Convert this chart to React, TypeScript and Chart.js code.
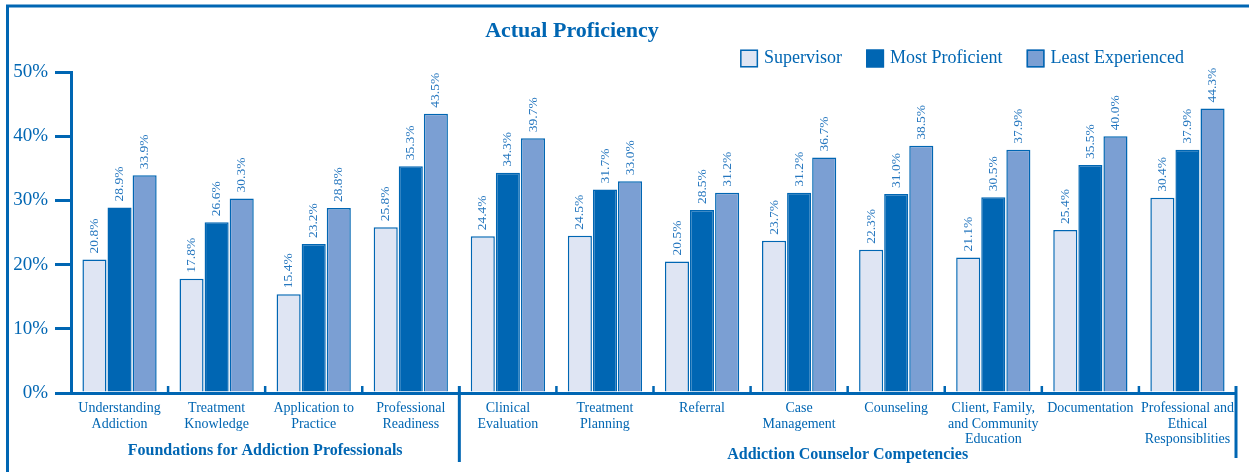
import React, { useEffect, useRef } from "react";
import { Chart, registerables } from "chart.js";

Chart.register(...registerables);

const categories: (string | string[])[] = [
  ["Understanding", "Addiction"],
  ["Treatment", "Knowledge"],
  ["Application to", "Practice"],
  ["Professional", "Readiness"],
  ["Clinical", "Evaluation"],
  ["Treatment", "Planning"],
  "Referral",
  ["Case", "Management"],
  "Counseling",
  ["Client, Family,", "and Community", "Education"],
  "Documentation",
  ["Professional and", "Ethical", "Responsiblities"],
];

const supervisor = [20.8, 17.8, 15.4, 25.8, 24.4, 24.5, 20.5, 23.7, 22.3, 21.1, 25.4, 30.4];
const mostProficient = [28.9, 26.6, 23.2, 35.3, 34.3, 31.7, 28.5, 31.2, 31.0, 30.5, 35.5, 37.9];
const leastExperienced = [33.9, 30.3, 28.8, 43.5, 39.7, 33.0, 31.2, 36.7, 38.5, 37.9, 40.0, 44.3];

const seriesNames = ["Supervisor", "Most Proficient", "Least Experienced"];
const groupNames = ["Foundations for Addiction Professionals", "Addiction Counselor Competencies"];
const groupSizes = [4, 8];
const titleText = "Actual Proficiency";

const BLUE = "#0066b3";
const LIGHT = "#dfe5f3";
const MEDIUM = "#7b9fd3";
const LABEL_BLUE = "#2677bf";
const FONT = "'Liberation Serif', 'DejaVu Serif', serif";
const fills = [LIGHT, BLUE, MEDIUM];

const decorPlugin = {
  id: "decor",
  afterDatasetsDraw(chart: any) {
    const ctx = chart.ctx;
    ctx.save();
    ctx.fillStyle = LABEL_BLUE;
    ctx.font = `13.5px ${FONT}`;
    ctx.textAlign = "left";
    ctx.textBaseline = "middle";
    chart.data.datasets.forEach((ds: any, di: number) => {
      const meta = chart.getDatasetMeta(di);
      meta.data.forEach((bar: any, i: number) => {
        const v = ds.data[i] as number;
        ctx.save();
        ctx.translate(bar.x, bar.y - 6);
        ctx.rotate(-Math.PI / 2);
        ctx.fillText(v.toFixed(1) + "%", 0, 0);
        ctx.restore();
      });
    });
    ctx.restore();
  },
  afterDraw(chart: any) {
    const ctx = chart.ctx;
    const xs = chart.scales.x;
    const area = chart.chartArea;
    ctx.save();

    // frame
    ctx.strokeStyle = BLUE;
    ctx.lineWidth = 3;
    ctx.beginPath();
    ctx.moveTo(7.5, chart.height + 10);
    ctx.lineTo(7.5, 6);
    ctx.lineTo(chart.width + 10, 6);
    ctx.stroke();

    // title
    ctx.fillStyle = BLUE;
    ctx.font = `bold 22px ${FONT}`;
    ctx.textAlign = "center";
    ctx.textBaseline = "middle";
    ctx.fillText(titleText, 572, 31);

    // legend
    ctx.font = `18px ${FONT}`;
    const box = 18;
    const gap = 6;
    const spacing = 24;
    const widths = seriesNames.map((n) => ctx.measureText(n).width);
    const total = widths.reduce((a, w) => a + box + gap + w, 0) + spacing * (seriesNames.length - 1);
    let lx = 1184 - total;
    const ly = 58.5;
    ctx.textAlign = "left";
    seriesNames.forEach((n, i) => {
      ctx.fillStyle = fills[i];
      ctx.fillRect(lx, ly - box / 2, box, box);
      ctx.strokeStyle = BLUE;
      ctx.lineWidth = 1.5;
      ctx.strokeRect(lx + 0.75, ly - box / 2 + 0.75, box - 1.5, box - 1.5);
      ctx.fillStyle = BLUE;
      ctx.fillText(n, lx + box + gap, ly);
      lx += box + gap + widths[i] + spacing;
    });

    // category boundary ticks
    const c0 = xs.getPixelForTick(0);
    const cw = xs.getPixelForTick(1) - c0;
    const n = categories.length;
    ctx.strokeStyle = BLUE;
    for (let k = 1; k <= n; k++) {
      const bx = c0 + (k - 0.5) * cw;
      const isGroupEnd = k === groupSizes[0];
      ctx.beginPath();
      if (isGroupEnd) {
        ctx.lineWidth = 3;
        ctx.moveTo(bx, area.bottom - 7);
        ctx.lineTo(bx, 462);
      } else if (k === n) {
        ctx.lineWidth = 3;
        ctx.moveTo(area.right, area.bottom - 7);
        ctx.lineTo(area.right, 458);
      } else {
        ctx.lineWidth = 2.5;
        ctx.moveTo(bx, area.bottom - 7);
        ctx.lineTo(bx, area.bottom);
      }
      ctx.stroke();
    }

    // group labels
    ctx.fillStyle = BLUE;
    ctx.font = `bold 16px ${FONT}`;
    ctx.textAlign = "center";
    ctx.textBaseline = "middle";
    let start = 0;
    const gys = [451, 455];
    groupSizes.forEach((size, gi) => {
      const left = c0 + (start - 0.5) * cw;
      const right = c0 + (start + size - 0.5) * cw;
      ctx.fillText(groupNames[gi], (left + right) / 2, gys[gi]);
      start += size;
    });

    ctx.restore();
  },
};

export default function App() {
  const canvasRef = useRef<HTMLCanvasElement | null>(null);

  useEffect(() => {
    const canvas = canvasRef.current;
    if (!canvas) return;
    const chart = new Chart(canvas, {
      type: "bar",
      data: {
        labels: categories as any,
        datasets: [
          { label: seriesNames[0], data: supervisor, backgroundColor: LIGHT, borderColor: BLUE, borderWidth: 1.5 },
          { label: seriesNames[1], data: mostProficient, backgroundColor: BLUE, borderColor: BLUE, borderWidth: 1.5 },
          { label: seriesNames[2], data: leastExperienced, backgroundColor: MEDIUM, borderColor: BLUE, borderWidth: 1.5 },
        ],
      },
      options: {
        responsive: false,
        animation: false,
        devicePixelRatio: 1,
        layout: { padding: { left: 0, right: 13, top: 72, bottom: 0 } },
        datasets: { bar: { categoryPercentage: 0.775, barPercentage: 0.96 } } as any,
        plugins: {
          legend: { display: false },
          title: { display: false },
          tooltip: { enabled: false },
        },
        scales: {
          x: {
            grid: { display: false },
            border: { display: true, color: BLUE, width: 3 },
            ticks: {
              color: BLUE,
              font: { family: FONT, size: 14, lineHeight: 1.1 },
              padding: 0,
              maxRotation: 0,
              autoSkip: false,
            },
            afterFit: (s: any) => {
              s.height = 79;
            },
          },
          y: {
            min: 0,
            max: 50,
            ticks: {
              stepSize: 10,
              color: BLUE,
              font: { family: FONT, size: 19 },
              padding: 7,
              callback: (v: any) => v + "%",
            },
            grid: {
              drawOnChartArea: false,
              drawTicks: true,
              tickLength: 16,
              tickColor: BLUE,
              tickWidth: 3,
              lineWidth: 3,
              color: BLUE,
            },
            border: { display: true, color: BLUE, width: 3 },
            afterFit: (s: any) => {
              s.width = 71;
            },
          },
        },
      },
      plugins: [decorPlugin],
    });
    return () => chart.destroy();
  }, []);

  return (
    <div style={{ position: "fixed", left: 0, top: 0, width: 1249, height: 472, background: "#fff" }}>
      <canvas ref={canvasRef} width={1249} height={472} style={{ display: "block" }} />
    </div>
  );
}
